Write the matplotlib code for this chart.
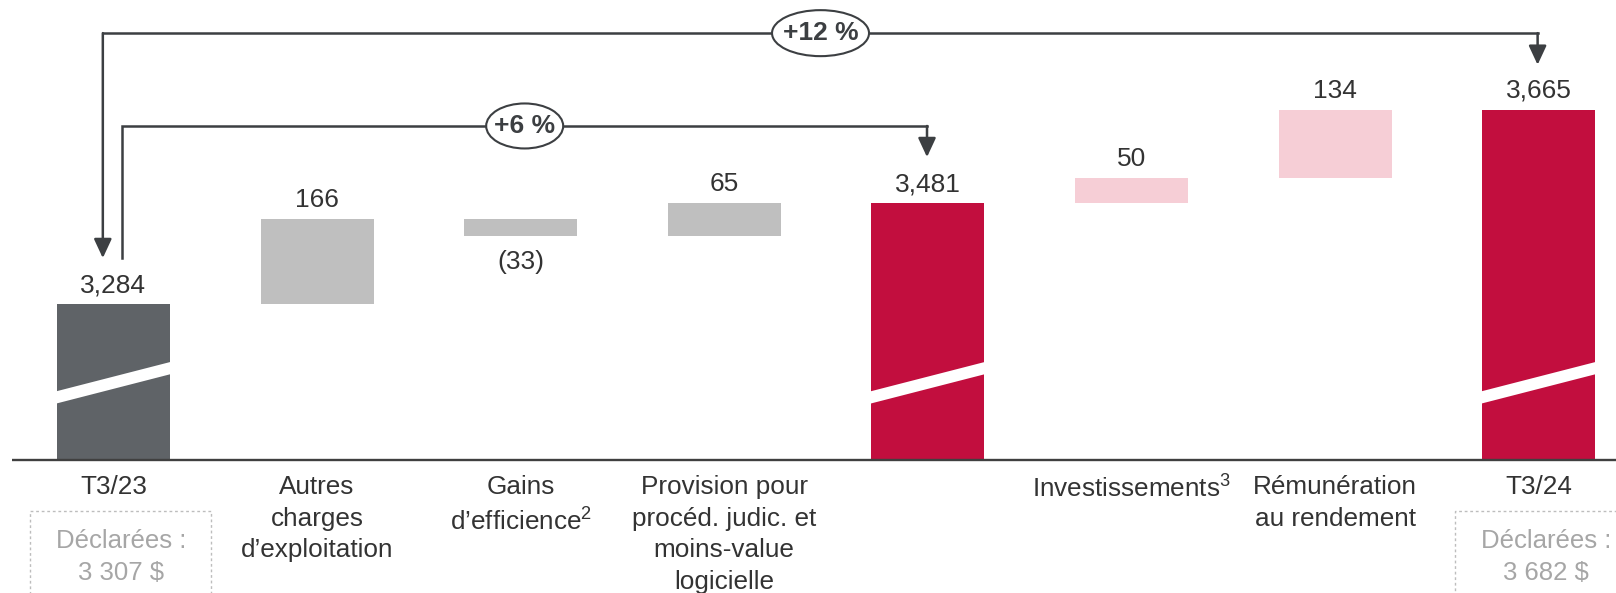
import matplotlib.pyplot as plt
import matplotlib.patches as mpatches
import numpy as np

plt.rcParams['font.family'] = ['Liberation Sans', 'DejaVu Sans']
plt.rcParams['mathtext.fontset'] = 'custom'
plt.rcParams['mathtext.rm'] = 'Liberation Sans'
plt.rcParams['mathtext.default'] = 'regular'

# ---- data -------------------------------------------------------------
categories = ["T3/23", "Autres\ncharges\nd’exploitation", "Gains\nd’efficience$^{2}$",
              "Provision pour\nprocéd. judic. et\nmoins-value\nlogicielle", "",
              "Investissements$^{3}$", "Rémunération\nau rendement", "T3/24"]
values = [3284, 166, -33, 65, 3481, 50, 134, 3665]
is_total = [True, False, False, False, True, False, False, True]
bar_colors = ["#5f6367", "#bfbfbf", "#bfbfbf", "#bfbfbf",
              "#c20e3e", "#f6ced6", "#f6ced6", "#c20e3e"]
reported = {0: "Déclarées :\n3 307 $", 7: "Déclarées :\n3 682 $"}
growth = [("+6 %", 0, 4), ("+12 %", 0, 7)]

# ---- layout -----------------------------------------------------------
TEXT = "#333333"
LINE = "#3c3f42"
y_floor, y_top = 2978, 3880      # broken axis: bars start at y_floor
bar_w = 0.555
px_x = 1 / 203.6                 # one pixel in x data units
px_y = 1 / 0.51                  # one pixel in y data units

fig = plt.figure(figsize=(16.16, 5.93), dpi=100)
ax = fig.add_axes([0, 133 / 593, 1, 460 / 593])
ax.set_xlim(-0.557, 7.38)
ax.set_ylim(y_floor, y_top)
ax.axis("off")

# waterfall bars
running = 0
for i, (v, tot, col) in enumerate(zip(values, is_total, bar_colors)):
    if tot:
        bottom, height = y_floor, v - y_floor
        running = v
    else:
        start, end = running, running + v
        bottom, height = min(start, end), abs(v)
        running = end
    ax.bar(i, height, bottom=bottom, width=bar_w, color=col, linewidth=0)

    if tot:
        # white slanted break across the bar
        x0, x1 = i - bar_w / 2 - 0.01, i + bar_w / 2 + 0.01
        b0, rise, gap = 3088, 59, 24
        ax.add_patch(mpatches.Polygon(
            [(x0, b0), (x1, b0 + rise), (x1, b0 + rise + gap), (x0, b0 + gap)],
            closed=True, color="white", linewidth=0, zorder=3))
        label = f"{v:,}"
    else:
        label = f"({abs(v)})" if v < 0 else f"{v}"

    if v < 0:
        ax.annotate(label, (i, bottom), xytext=(0, -10), textcoords="offset points",
                    ha="center", va="top", fontsize=19, color=TEXT)
    else:
        ax.annotate(label, (i, bottom + height), xytext=(0, 5), textcoords="offset points",
                    ha="center", va="bottom", fontsize=19, color=TEXT)

# baseline
ax.plot([-0.5, 7.38], [y_floor, y_floor], color="#404040", lw=1.7,
        clip_on=False, solid_capstyle="butt")

# category labels
for i, cat in enumerate(categories):
    ax.annotate(cat, (i, y_floor), xytext=(0, -11), textcoords="offset points",
                ha="center", va="top", fontsize=18.8, color=TEXT, linespacing=1.4,
                annotation_clip=False)

# "reported" dashed boxes
for i, txt in reported.items():
    cx = i + 0.036
    ax.add_patch(mpatches.Rectangle((cx - 0.445, y_floor - 400), 0.89, 300,
                                    fill=False, ec="#bdbdbd", lw=1.0,
                                    ls=(0, (2, 2)), clip_on=False))
    ax.annotate(txt, (cx, y_floor), xytext=(0, -70), textcoords="offset points",
                ha="center", va="center", fontsize=18.5, color="#a6a6a6",
                linespacing=1.45, annotation_clip=False)

# growth connectors
arrow = dict(arrowstyle="-|>,head_length=0.58,head_width=0.27", color=LINE,
             lw=1.8, shrinkA=0, shrinkB=0, mutation_scale=20)


def bubble(x, y, text, w_px, h_px):
    ax.add_patch(mpatches.Ellipse((x, y), w_px * px_x, h_px * px_y, fc="white",
                                  ec=LINE, lw=1.5, zorder=4))
    ax.text(x, y, text, ha="center", va="center", fontsize=19, fontweight="bold",
            color=LINE, zorder=5)


# +12 %: arrows at both ends
lbl, a, b = growth[1]
xl, xr, yh = a - 0.052, b - 0.005, 3815
ax.plot([xl, xr], [yh, yh], color=LINE, lw=1.8)
ax.annotate("", xy=(xl, values[a] + 90), xytext=(xl, yh), arrowprops=arrow)
ax.annotate("", xy=(xr, values[b] + 88), xytext=(xr, yh), arrowprops=arrow)
bubble(3.473, yh, lbl, 97, 46)

# +6 %: arrow at the end only
lbl, a, b = growth[0]
xl, xr, yh = a + 0.04, b - 0.004, 3633
ax.plot([xl, xl, xr], [values[a] + 90, yh, yh], color=LINE, lw=1.8,
        solid_joinstyle="miter")
ax.annotate("", xy=(xr, values[b] + 91), xytext=(xr, yh), arrowprops=arrow)
bubble(2.02, yh, lbl, 77, 45)

fig.savefig("out.png", dpi=100)
